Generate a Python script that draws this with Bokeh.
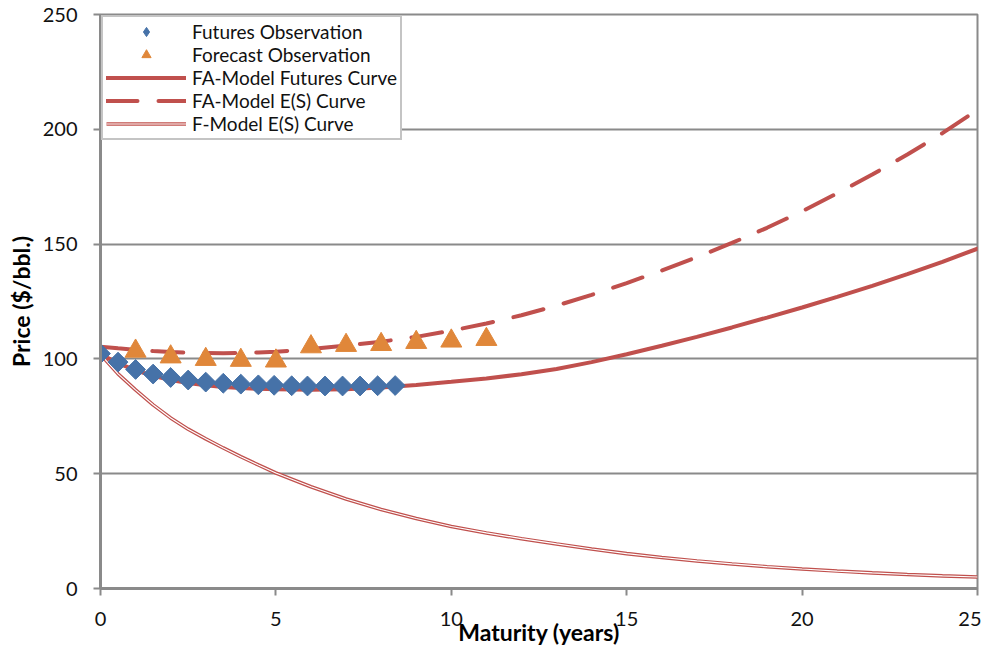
import numpy as np
from bokeh.plotting import figure
from bokeh.models import Range1d, Legend, LegendItem, SingleIntervalTicker
from bokeh.embed import file_html
from bokeh.resources import INLINE

# ---- data ----
futures_t = [0, 0.5, 1.0, 1.5, 2.0, 2.5, 3.0, 3.5, 4.0, 4.5, 4.95, 5.45, 5.9, 6.4, 6.9, 7.4, 7.9, 8.4]
futures_p = [102.3, 98.6, 95.4, 93.4, 91.9, 90.8, 89.9, 89.4, 89.0, 88.7, 88.5, 88.3, 88.2, 88.2, 88.2, 88.2, 88.3, 88.4]

forecast_t = [1, 2, 3, 4, 5, 6, 7, 8, 9, 10, 11]
forecast_p = [103.4, 100.9, 99.8, 99.4, 99.1, 105.3, 105.9, 106.3, 107.2, 107.8, 108.5]

curve_t = [0, 0.5, 1, 1.5, 2, 2.5, 3, 3.5, 4, 4.5, 5, 6, 7, 8, 9, 10, 11, 12, 13, 14,
           15, 16, 17, 18, 19, 20, 21, 22, 23, 24, 25]
fa_futures_curve = [102.0, 98.2, 95.0, 92.6, 90.8, 89.5, 88.5, 87.8, 87.3, 87.0, 86.8, 86.6, 86.8,
                    87.5, 88.6, 90.0, 91.5, 93.3, 95.6, 98.6, 102.0, 105.7, 109.6, 113.7, 118.0,
                    122.4, 127.0, 131.8, 136.9, 142.3, 148.0]
fa_es_curve = [105.3, 104.6, 104.0, 103.4, 103.0, 102.7, 102.6, 102.5, 102.6, 102.8, 103.1, 104.3,
               105.8, 107.5, 109.6, 112.3, 115.4, 119.0, 123.2, 127.9, 133.0, 138.5, 144.3, 150.5,
               157.1, 164.3, 172.1, 180.3, 189.0, 198.3, 208.5]
f_es_curve = [102.0, 93.5, 86.5, 80.0, 74.3, 69.4, 65.2, 61.2, 57.4, 53.8, 50.3, 44.3, 39.0, 34.4,
              30.5, 27.0, 24.2, 21.7, 19.4, 17.2, 15.2, 13.5, 12.0, 10.7, 9.5, 8.5, 7.6, 6.8, 6.1,
              5.5, 5.0]

x_ticks = [0, 5, 10, 15, 20, 25]
y_ticks = [0, 50, 100, 150, 200, 250]

RED = "#C0504D"
BLUE = "#4672A8"
ORANGE = "#E0873A"
GRAY = "#8A8A8A"
FONT = "Lato"

p = figure(width=981, height=648, output_backend="svg", toolbar_location=None,
           x_range=Range1d(x_ticks[0], x_ticks[-1]), y_range=Range1d(y_ticks[0], y_ticks[-1]),
           min_border_left=100, min_border_right=4, min_border_top=14, min_border_bottom=58)

p.background_fill_color = "white"
p.border_fill_color = "white"
p.outline_line_color = GRAY
p.outline_line_width = 2

p.xgrid.visible = False
p.ygrid.grid_line_color = GRAY
p.ygrid.grid_line_width = 2

p.xaxis.ticker = SingleIntervalTicker(interval=5, num_minor_ticks=0)
p.yaxis.ticker = SingleIntervalTicker(interval=50, num_minor_ticks=0)

for ax in (p.xaxis, p.yaxis):
    ax.axis_line_color = GRAY
    ax.axis_line_width = 3
    ax.major_tick_line_color = GRAY
    ax.major_tick_line_width = 2
    ax.major_tick_out = 7
    ax.major_tick_in = 0
    ax.minor_tick_line_color = None
    ax.major_label_text_font = FONT
    ax.major_label_text_font_size = "20px"
    ax.major_label_text_color = "#111111"
    ax.axis_label_text_font = FONT
    ax.axis_label_text_font_size = "23px"
    ax.axis_label_text_font_style = "bold"
    ax.axis_label_text_color = "#000000"

p.xaxis.axis_label = "Maturity (years)"
p.yaxis.axis_label = "Price ($/bbl.)"
p.xaxis.major_label_standoff = 16
p.xaxis.axis_label_standoff = -11
p.yaxis.major_label_standoff = 16
p.yaxis.axis_label_standoff = 5

# ---- lines ----
r_fa_fut = p.line(curve_t, fa_futures_curve, line_color=RED, line_width=4, line_cap="round")
r_fa_es = p.line(curve_t, fa_es_curve, line_color=RED, line_width=4, line_dash="31 21",
                 line_cap="round")
r_f_outer = p.line(curve_t, f_es_curve, line_color=RED, line_width=3.6)
r_f_inner = p.line(curve_t, f_es_curve, line_color="white", line_width=1.2)

# ---- markers ----
# small diamond glyph (hidden beneath the big markers) used for the legend symbol
r_fut_key = p.scatter(futures_t, futures_p, marker="diamond", size=8,
                      fill_color=BLUE, line_color=BLUE)
r_fut = p.scatter(futures_t, futures_p, marker="square", angle=np.pi / 4, size=14,
                  fill_color=BLUE, line_color=BLUE)
r_fc = p.scatter(forecast_t, forecast_p, marker="triangle", size=21,
                 fill_color=ORANGE, line_color=ORANGE)

legend = Legend(items=[
    LegendItem(label="Futures Observation", renderers=[r_fut_key]),
    LegendItem(label="Forecast Observation", renderers=[r_fc]),
    LegendItem(label="FA-Model Futures Curve", renderers=[r_fa_fut]),
    LegendItem(label="FA-Model E(S) Curve", renderers=[r_fa_es]),
    LegendItem(label="F-Model E(S) Curve", renderers=[r_f_outer, r_f_inner]),
], location="top_left")
legend.margin = 1
legend.padding = 3
legend.spacing = 0
legend.glyph_height = 23
legend.glyph_width = 80
legend.label_standoff = 6
legend.label_text_font = FONT
legend.label_text_font_size = "19px"
legend.label_text_color = "#111111"
legend.border_line_color = GRAY
legend.border_line_width = 2
legend.background_fill_color = "white"
legend.background_fill_alpha = 1.0
p.add_layout(legend)

open("out.html", "w").write(file_html(p, INLINE))
